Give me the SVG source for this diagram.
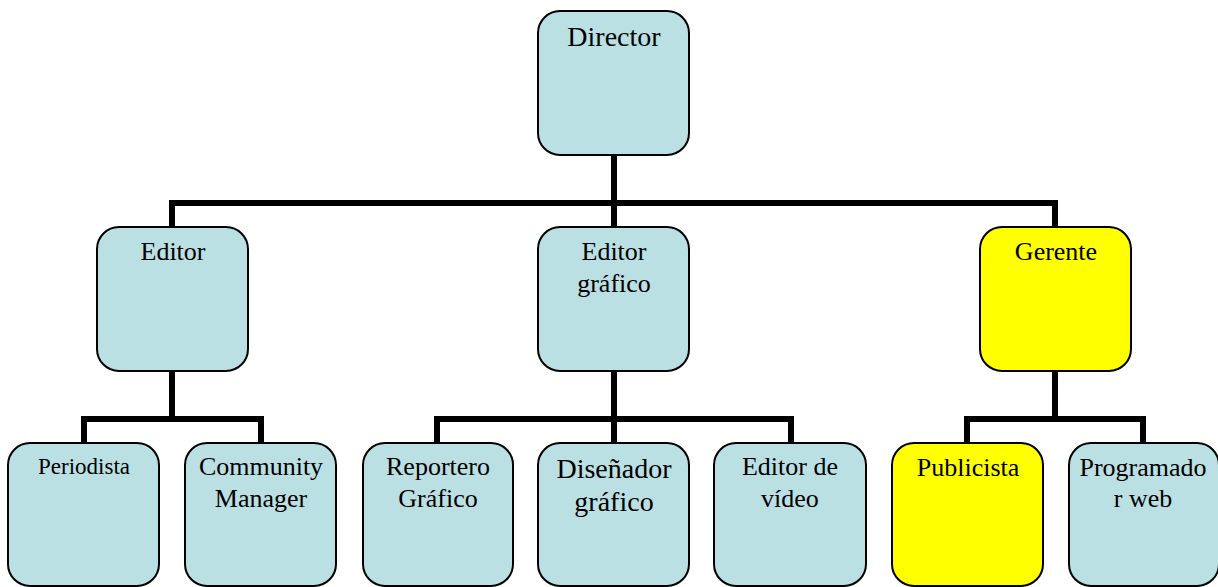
<svg xmlns="http://www.w3.org/2000/svg" width="1218" height="587" viewBox="0 0 1218 587">
<style>
.b{fill:#BBE0E3;stroke:#000;stroke-width:2}
.y{fill:#FFFF00;stroke:#000;stroke-width:2}
text{font-size:26px;text-anchor:middle;fill:#000}
.c{fill:none;stroke:#000;stroke-width:6;stroke-linejoin:miter;stroke-linecap:butt}
</style>
<rect width="1218" height="587" fill="#fff"/>
<g id="connectors">
<path class="c" d="M614 155V227M172 227V203H1055V227"/>
<path class="c" d="M172 371V419M84 443V419H261V443"/>
<path class="c" d="M614 371V443M437 443V419H791V443"/>
<path class="c" d="M1055 371V419M967 443V419H1143V443"/>
</g>
<g font-family="'Liberation Serif', 'DejaVu Serif', serif">
<g id="director"><rect class="b" x="538" y="11" width="151" height="144" rx="22"/><text x="614" y="46" style="font-size:28px">Director</text></g>
<g id="editor"><rect class="b" x="97" y="227" width="151" height="144" rx="22"/><text x="173" y="260">Editor</text></g>
<g id="editor-grafico"><rect class="b" x="538" y="227" width="151" height="144" rx="22"/><text x="614" y="260">Editor</text><text x="614" y="292">gráfico</text></g>
<g id="gerente"><rect class="y" x="980" y="227" width="151" height="144" rx="22"/><text x="1056" y="260">Gerente</text></g>
<g id="periodista"><rect class="b" x="8" y="443" width="151" height="143" rx="22"/><text x="84" y="474" style="font-size:23px">Periodista</text></g>
<g id="community"><rect class="b" x="185" y="443" width="151" height="143" rx="22"/><text x="261" y="475">Community</text><text x="261" y="507">Manager</text></g>
<g id="reportero"><rect class="b" x="363" y="443" width="150" height="143" rx="22"/><text x="438" y="475">Reportero</text><text x="438" y="507">Gráfico</text></g>
<g id="disenador"><rect class="b" x="538" y="443" width="151" height="143" rx="22"/><text x="614" y="478" style="font-size:28px">Diseñador</text><text x="614" y="511" style="font-size:28px">gráfico</text></g>
<g id="editor-video"><rect class="b" x="714" y="443" width="152" height="143" rx="22"/><text x="790" y="475">Editor de</text><text x="790" y="507">vídeo</text></g>
<g id="publicista"><rect class="y" x="892" y="443" width="151" height="143" rx="22"/><text x="968" y="476">Publicista</text></g>
<g id="programador"><rect class="b" x="1069" y="443" width="150" height="143" rx="22"/><text x="1143" y="476">Programado</text><text x="1143" y="507">r web</text></g>
</g>
</svg>
